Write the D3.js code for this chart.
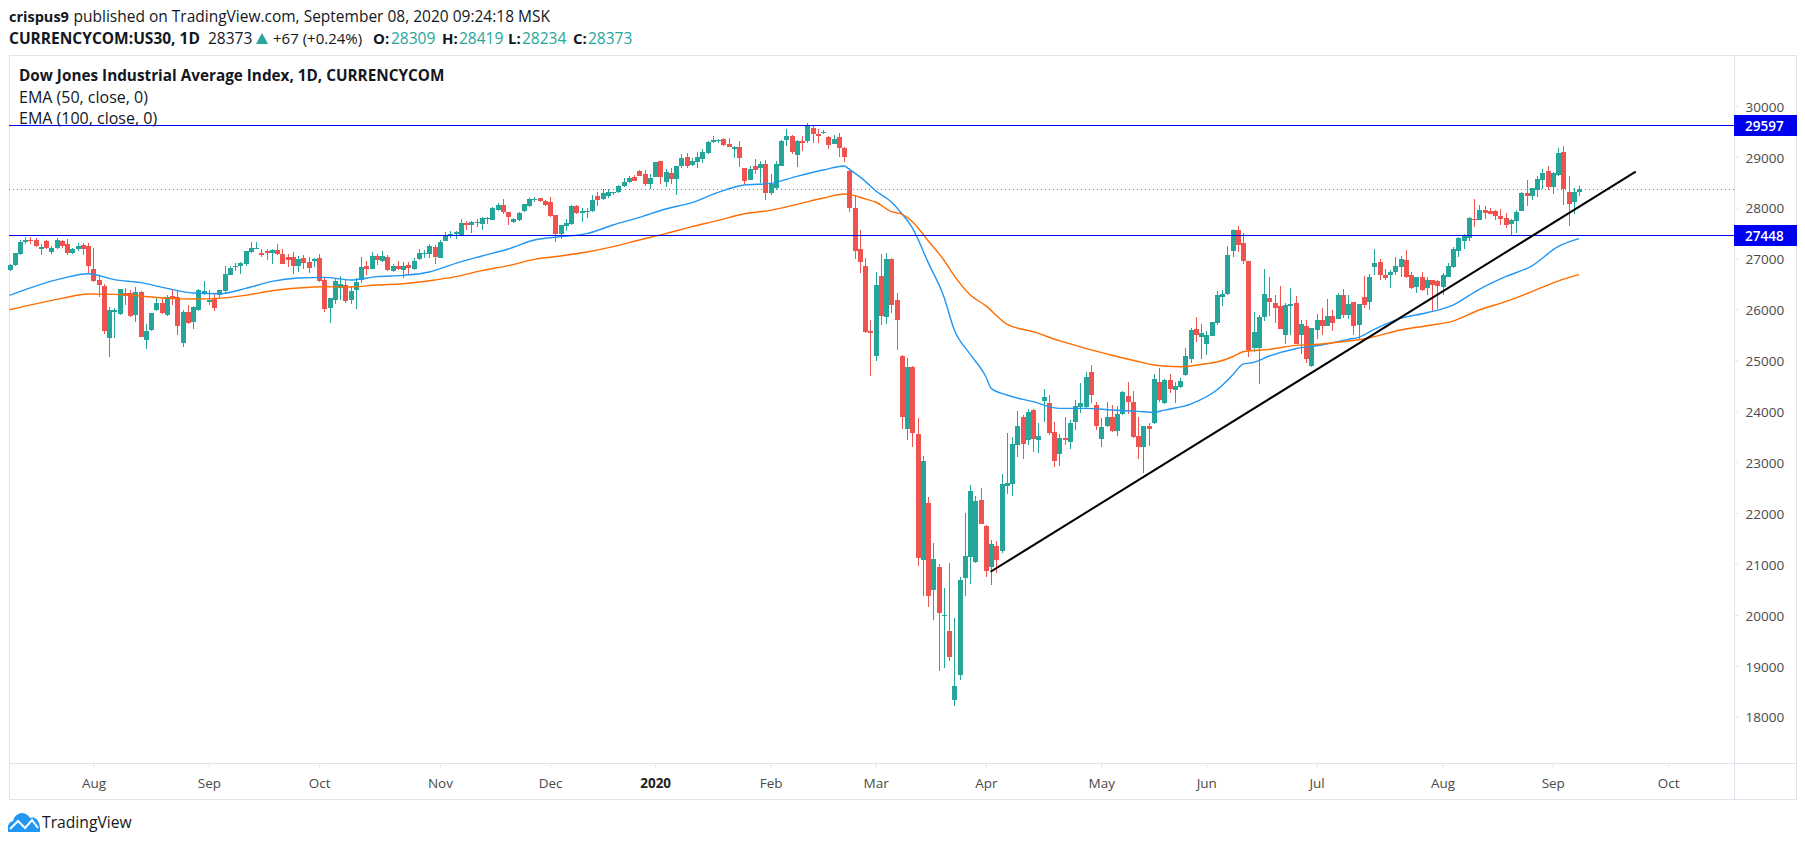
<!DOCTYPE html>
<html>
<head>
<meta charset="utf-8">
<script src="https://cdn.jsdelivr.net/npm/d3@7"></script>
<style>
  html, body { margin: 0; padding: 0; background: #fff; overflow: hidden; }
  svg { display: block; font-family: "Open Sans", sans-serif; }
</style>
</head>
<body>
<svg id="chart" width="1805" height="846"></svg>
<script>
// daily candles, 300 bars
const opens = [
  26774,26872,27088,27330,27363,27363,27186,27343,27127,27206,
  27343,27284,27108,27186,27258,27245,26793,26577,26459,25437,
  25955,25909,26322,26322,25889,26341,25398,25594,25988,26125,
  25889,26263,26243,25339,25948,25752,25988,26302,26151,26204,
  26282,26361,26675,26839,26852,26891,27127,27186,27108,27147,
  27108,27167,27088,27029,27029,26852,27009,26931,26957,27009,
  26577,26027,26184,26420,26479,26184,26381,26571,26853,26794,
  27049,26951,27029,26754,26853,26774,26872,26794,26990,27088,
  27088,27226,27010,27344,27442,27481,27462,27698,27658,27704,
  27678,27776,27757,27953,28051,27914,27717,27757,27933,28031,
  28150,28189,28130,28110,27855,27481,27639,27678,28031,27894,
  27914,27933,28228,28169,28228,28287,28307,28425,28503,28601,
  28719,28660,28464,28607,28909,28509,28680,28562,28817,28994,
  28837,28896,28954,29072,29288,29308,29347,29249,29151,29190,
  28778,28542,28817,28778,28856,28286,28385,28817,29328,29406,
  29033,29308,29308,29563,29446,29475,29387,29249,29387,29171,
  28719,27992,27186,26853,25575,25084,26656,25850,26990,26185,
  25084,23650,24868,23551,21076,22196,20486,20938,19975,19680,
  18325,18816,20722,21134,21036,22255,21744,20938,21351,21252,
  22530,22569,23335,23885,23434,24023,23434,24200,24161,23591,
  23158,23473,23394,23787,24082,24082,24770,24121,23453,23709,
  23885,23610,23944,24298,24180,23512,23296,23709,23768,24573,
  24161,24612,24416,24475,24710,25025,25614,25457,25320,25477,
  25732,26243,26302,27147,27560,27304,26950,25241,25241,25850,
  26223,26125,26066,25496,26066,26125,25496,25673,24887,25594,
  25791,25673,25870,25811,26282,25889,26145,25693,26243,26145,
  26832,26931,26675,26675,26734,26832,26970,26675,26440,26636,
  26420,26577,26557,26440,26636,26832,27147,27343,27402,27776,
  27756,27952,27933,27933,27835,27795,27677,27736,27933,28287,
  28228,28346,28542,28719,28404,28640,29092,28306,28110,28309
];
const highs = [
  26900,27108,27363,27422,27415,27396,27284,27363,27245,27402,
  27363,27383,27199,27304,27298,27304,27206,26675,26498,26040,
  26020,26400,26420,26380,26440,26361,25712,25929,26250,26204,
  26282,26394,26361,25988,26086,26066,26400,26557,26380,26302,
  26380,26852,26852,26911,26924,27147,27324,27324,27186,27186,
  27186,27284,27186,27088,27127,27049,27068,27029,27009,27088,
  26616,26223,26597,26656,26577,26459,26610,27023,26951,27128,
  27088,27147,27069,26892,26951,26931,26931,27010,27187,27167,
  27285,27265,27364,27521,27540,27540,27776,27737,27737,27776,
  27815,27815,28012,28090,28169,27914,27796,27914,28071,28189,
  28208,28189,28150,28208,27855,27658,27776,28051,28051,27992,
  27992,28248,28307,28366,28366,28307,28444,28582,28621,28641,
  28739,28739,28660,28903,28909,28765,28771,28817,29053,29073,
  28968,29086,29151,29307,29400,29348,29361,29367,29216,29308,
  28778,28824,28954,28915,28935,28660,28915,29328,29544,29420,
  29320,29400,29655,29600,29544,29517,29400,29426,29466,29190,
  28771,28247,27559,27010,25792,26735,27088,27108,27010,26322,
  25104,25045,24888,23859,23119,22313,21410,20997,20525,21017,
  19936,20741,21999,22549,22333,22490,21763,21469,21449,22765,
  23571,23492,24003,23925,24043,24043,23768,24436,24318,23787,
  23551,23885,23827,24220,24554,24770,24907,24180,23866,24180,
  24121,24102,24396,24573,24396,23885,23709,23768,24730,24848,
  24632,24730,24573,24652,25240,25634,25850,25712,25575,25752,
  26361,26380,27245,27580,27638,27500,26950,25948,25889,26793,
  26636,26282,26459,26125,26420,26263,25791,25791,25634,25909,
  26027,26204,25988,26321,26400,26282,26145,26105,26656,26695,
  27186,26990,26793,26774,27029,27049,27167,26734,26636,26734,
  26636,26577,26577,26715,26911,27225,27422,27481,27815,28169,
  28051,28031,27992,27952,27972,27893,27776,27952,28306,28542,
  28378,28621,28758,28817,28699,29171,29210,28621,28385,28419
];
const lows = [
  26750,26852,27075,27284,27291,27232,27068,27180,27088,27186,
  27206,27075,27088,27147,27068,26708,26538,26250,25516,25064,
  25437,25889,26086,25843,25752,25450,25221,25575,25968,25909,
  25870,26086,25496,25260,25712,25614,25968,26276,26086,25968,
  26223,26341,26669,26754,26695,26852,27108,27186,27035,26970,
  26891,27068,26891,26832,26695,26734,26793,26715,26832,26538,
  25948,25732,26105,26184,26125,26105,26014,26518,26676,26794,
  26872,26931,26748,26735,26774,26617,26695,26774,26971,27010,
  27010,26892,27010,27344,27403,27383,27442,27560,27501,27619,
  27560,27678,27757,27940,27874,27658,27698,27737,27914,28012,
  28110,28104,28031,27815,27324,27383,27540,27658,27874,27717,
  27796,27914,28031,28150,28189,28248,28287,28405,28484,28523,
  28621,28425,28366,28595,28457,28398,28457,28254,28784,28771,
  28811,28778,28876,29052,29262,29275,29217,29190,28968,28791,
  28456,28542,28660,28477,28155,28247,28345,28817,29203,29052,
  28793,29119,29262,29262,29262,29444,29151,29249,29000,28896,
  27913,26990,26715,25530,24691,24986,25693,25713,25929,25202,
  23650,23434,23296,20958,20368,20152,19897,18895,18953,19091,
  18207,18717,20368,20604,21017,21783,20742,20584,20820,21213,
  22372,22333,23099,23060,23335,23198,23178,23787,23532,22903,
  22923,23335,23257,23630,23964,24062,24161,23630,23296,23689,
  23591,23512,23925,23944,23473,23060,22785,23316,23748,24180,
  24141,24357,24161,24455,24690,24946,25359,25025,25103,25477,
  25693,26066,26282,27029,27127,26891,25064,25162,24533,25772,
  25870,25732,25614,25320,25496,25320,25123,24946,24867,25418,
  25496,25673,25575,25811,25830,25811,25496,25418,26027,25988,
  26675,26577,26577,26420,26675,26636,26616,26400,26322,26361,
  26282,25968,26007,26282,26636,26813,27029,27186,27343,27618,
  27756,27776,27874,27756,27658,27599,27442,27500,27933,28031,
  28149,28208,28365,28346,28267,28621,28051,27638,27874,28234
];
const closes = [
  26872,27108,27324,27363,27350,27252,27219,27206,27206,27363,
  27245,27114,27186,27245,27193,26859,26557,26479,25575,25981,
  25988,26400,26263,25870,26341,25457,25575,25929,26125,25929,
  26243,26210,25673,25948,25732,26046,26380,26361,26184,26027,
  26380,26695,26813,26859,26911,27147,27206,27206,27068,27108,
  27167,27088,26891,26970,26852,26990,26911,26813,26990,26557,
  26007,26223,26557,26498,26164,26361,26538,26833,26800,27049,
  26971,27049,26774,26853,26794,26853,26813,26951,27108,27108,
  27246,27029,27324,27462,27481,27521,27698,27665,27717,27717,
  27796,27796,27992,28051,27914,27815,27776,27894,28071,28169,
  28169,28130,28051,27835,27481,27658,27698,28031,27894,27933,
  27933,28150,28150,28287,28307,28307,28425,28503,28582,28523,
  28628,28464,28582,28896,28607,28699,28562,28817,28975,28817,
  28916,28994,29092,29288,29328,29328,29230,29190,29190,28974,
  28522,28758,28738,28856,28286,28463,28856,29308,29406,29092,
  29308,29269,29596,29446,29406,29485,29230,29347,29171,28994,
  27992,27147,26931,25556,25536,26479,25870,26990,26086,25792,
  23885,24868,23571,21115,23021,20368,21095,20034,19995,19169,
  18600,20682,21154,22431,22235,21783,20860,21390,21076,22569,
  22589,23355,23709,23355,23984,23453,23512,24278,23571,23021,
  23473,23434,23768,24102,24161,24671,24318,23709,23689,23885,
  23610,23944,24377,24180,23492,23296,23709,23650,24632,24220,
  24612,24436,24495,24593,25084,25594,25496,25536,25496,25752,
  26282,26302,27068,27560,27265,26950,25201,25555,25850,26302,
  26145,26027,25614,26086,26105,25320,25712,25025,25634,25791,
  25673,25870,25732,26282,25889,26105,25673,26105,26086,26636,
  26911,26675,26616,26734,26852,26990,26636,26420,26636,26380,
  26577,26479,26459,26675,26852,27186,27402,27461,27795,27756,
  27952,27893,27874,27835,27776,27658,27756,27913,28287,28228,
  28378,28562,28680,28404,28680,29073,28365,28070,28306,28373
];

// moving averages, read at the listed bars
const ema50Bars = [0,10,15,20,25,30,35,40,45,50,55,60,65,70,75,80,85,90,95,100,105,110,115,120,125,130,135,140,145,150,155,159,160,163,165,168,170,172,175,178,180,183,186,187,190,195,200,205,210,215,218,220,225,230,233,235,237,240,245,250,255,257,260,265,270,275,280,285,290,295,299];
const ema50 = [26276,26610,26701,26584,26525,26413,26322,26308,26413,26551,26616,26630,26577,26643,26669,26735,26905,27049,27187,27363,27429,27488,27658,27809,27973,28097,28299,28443,28476,28614,28738,28817,28750,28520,28330,28110,27880,27600,26924,26250,25594,25123,24678,24449,24318,24187,24056,24056,24023,23996,23977,24022,24140,24415,24710,24926,24959,25084,25228,25300,25411,25450,25608,25824,25935,26086,26394,26643,26852,27232,27389];
const ema100Bars = [0,10,15,20,25,30,35,40,45,50,55,60,65,70,75,80,85,90,95,100,105,110,115,120,125,130,135,140,145,150,155,159,160,163,165,168,170,172,175,178,180,183,186,190,195,200,205,210,215,218,220,223,228,230,233,235,240,245,250,255,258,260,265,270,275,280,285,290,295,299];
const ema100 = [25994,26217,26302,26295,26263,26217,26204,26217,26276,26367,26420,26446,26440,26479,26505,26564,26643,26761,26859,26984,27049,27128,27233,27363,27488,27625,27749,27880,27946,28064,28188,28267,28260,28170,28110,27920,27870,27723,27350,26970,26660,26290,26070,25712,25562,25385,25234,25100,24976,24907,24887,24874,24933,24966,25070,25169,25215,25293,25320,25378,25418,25464,25595,25680,25771,25988,26151,26348,26557,26682];

// drawn levels and the trend line
const levels = [29597, 27448];
const lastClose = 28373;
const trendBars = [186.9, 309.8];
const trendValues = [20846, 28705];

const priceTicks = d3.range(18000, 30001, 1000);
const monthBars = [16,38,59,82,103,123,145,165,186,208,228,249,273,294,316];
const monthLabels = ['Aug','Sep','Oct','Nov','Dec','2020','Feb','Mar','Apr','May','Jun','Jul','Aug','Sep','Oct'];

const UP = '#26a69a', DOWN = '#ef5350', LEVEL = '#0000f0', FRAME = '#e0e3eb';
const plot = { left: 9, top: 55, right: 1734, bottom: 763, outerRight: 1796, outerBottom: 799 };

const svg = d3.select('#chart');
const x = d3.scaleLinear().domain([0, 299]).range([9.5, 1579]);
const y = d3.scaleLinear().domain([30000, 18000]).range([105.8, 716.6]);

// frame
svg.append('rect')
  .attr('x', plot.left + 0.5).attr('y', plot.top + 0.5)
  .attr('width', plot.outerRight - plot.left).attr('height', plot.outerBottom - plot.top)
  .attr('fill', 'none').attr('stroke', FRAME);
svg.append('line').attr('x1', plot.left).attr('x2', plot.outerRight)
  .attr('y1', plot.bottom + 0.5).attr('y2', plot.bottom + 0.5).attr('stroke', FRAME);
svg.append('line').attr('x1', plot.right + 0.5).attr('x2', plot.right + 0.5)
  .attr('y1', plot.top).attr('y2', plot.outerBottom).attr('stroke', FRAME);

// axes
const xAxis = svg.append('g')
  .attr('transform', `translate(0,${plot.bottom + 0.5})`)
  .call(d3.axisBottom(x).tickValues(monthBars).tickFormat((d, i) => monthLabels[i]).tickSize(4).tickPadding(11));
const yAxis = svg.append('g')
  .attr('transform', `translate(${plot.right + 0.5},0)`)
  .call(d3.axisRight(y).tickValues(priceTicks).tickFormat(d3.format('d')).tickSize(4).tickPadding(7));
svg.selectAll('.domain').remove();
svg.selectAll('.tick line').attr('stroke', FRAME);
svg.selectAll('.tick text').attr('fill', '#4a4a4a').style('font-family', '"Open Sans", sans-serif').style('font-size', '13.5px');
yAxis.selectAll('.tick text').attr('y', 1);
xAxis.selectAll('.tick text').filter(function() { return d3.select(this).text() === '2020'; })
  .style('font-weight', 700).attr('fill', '#222');

// last close marker
svg.append('line')
  .attr('x1', plot.left).attr('x2', plot.right)
  .attr('y1', Math.round(y(lastClose)) + 0.5).attr('y2', Math.round(y(lastClose)) + 0.5)
  .attr('stroke', UP).attr('stroke-dasharray', '1 3');

// candles
const bars = d3.range(closes.length);
const candles = svg.append('g').attr('shape-rendering', 'crispEdges');
candles.selectAll('rect.wick').data(bars).join('rect').attr('class', 'wick')
  .attr('x', i => Math.round(x(i)))
  .attr('width', 1)
  .attr('y', i => y(highs[i]))
  .attr('height', i => y(lows[i]) - y(highs[i]))
  .attr('fill', i => closes[i] >= opens[i] ? UP : DOWN);
candles.selectAll('rect.body').data(bars).join('rect').attr('class', 'body')
  .attr('x', i => Math.round(x(i)) - 2)
  .attr('width', 5)
  .attr('y', i => y(Math.max(opens[i], closes[i])))
  .attr('height', i => Math.max(1, Math.abs(y(opens[i]) - y(closes[i]))))
  .attr('fill', i => closes[i] >= opens[i] ? UP : DOWN);

// moving averages
const emaLine = d3.line().x(d => x(d[0])).y(d => y(d[1])).curve(d3.curveMonotoneX);
svg.append('path').attr('d', emaLine(d3.zip(ema50Bars, ema50)))
  .attr('fill', 'none').attr('stroke', '#2196f3').attr('stroke-width', 1.4);
svg.append('path').attr('d', emaLine(d3.zip(ema100Bars, ema100)))
  .attr('fill', 'none').attr('stroke', '#ff6d00').attr('stroke-width', 1.4);

// horizontal levels with their price tags
levels.forEach(level => {
  const ly = Math.round(y(level) - 1) + 0.5;
  svg.append('line').attr('x1', plot.left).attr('x2', plot.right)
    .attr('y1', ly).attr('y2', ly).attr('stroke', LEVEL);
  svg.append('rect').attr('x', plot.right).attr('y', ly - 10.5)
    .attr('width', plot.outerRight - plot.right + 1).attr('height', 21).attr('fill', LEVEL);
  svg.append('text').attr('x', plot.right + 11).attr('y', ly + 5)
    .attr('fill', '#fff').style('font-size', '13.5px').style('font-weight', 600).text(level);
});

// trend line
svg.append('line')
  .attr('x1', x(trendBars[0])).attr('y1', y(trendValues[0]))
  .attr('x2', x(trendBars[1])).attr('y2', y(trendValues[1]))
  .attr('stroke', '#000').attr('stroke-width', 2);

// header and legend text
function label(tx, ty, str, opts = {}) {
  return svg.append('text').attr('x', tx).attr('y', ty).text(str)
    .attr('fill', opts.fill || '#131722')
    .style('font-size', (opts.size || 15.5) + 'px')
    .style('font-weight', opts.bold ? 700 : 400);
}
label(9, 22, 'crispus9', { bold: true, size: 14.5 });
label(73.5, 22, 'published on TradingView.com, September 08, 2020 09:24:18 MSK');
label(9, 44, 'CURRENCYCOM:US30, 1D', { bold: true });
label(208, 44, '28373');
svg.append('path').attr('d', 'M256,44L262,33L268,44Z').attr('fill', UP);
label(273, 44, '+67 (+0.24%)', { size: 15 });
label(373, 44, 'O:', { bold: true, size: 15 }); label(391, 44, '28309', { fill: UP });
label(442, 44, 'H:', { bold: true, size: 15 }); label(459, 44, '28419', { fill: UP });
label(508, 44, 'L:', { bold: true, size: 15 }); label(522, 44, '28234', { fill: UP });
label(573, 44, 'C:', { bold: true, size: 15 }); label(588, 44, '28373', { fill: UP });
label(19, 81, 'Dow Jones Industrial Average Index, 1D, CURRENCYCOM', { bold: true, size: 15.3 });
label(19, 103, 'EMA (50, close, 0)', { size: 16 });
label(19, 124, 'EMA (100, close, 0)', { size: 16 });

// logo
const logo = svg.append('g').attr('transform', 'translate(8,813)');
logo.append('path')
  .attr('d', 'M0,19 L0,13 Q1,9 5,8 Q7,1 13,0 Q19,0 22,5 Q27,3 30,8 Q32,11 32,15 L32,19 Z')
  .attr('fill', '#2196f3');
logo.append('path').attr('d', 'M2,16 L10,8 L17,15 L24,7 L30,15')
  .attr('fill', 'none').attr('stroke', '#fff').attr('stroke-width', 2);
label(42, 828, 'TradingView', { size: 15.7 });
</script>
</body>
</html>
